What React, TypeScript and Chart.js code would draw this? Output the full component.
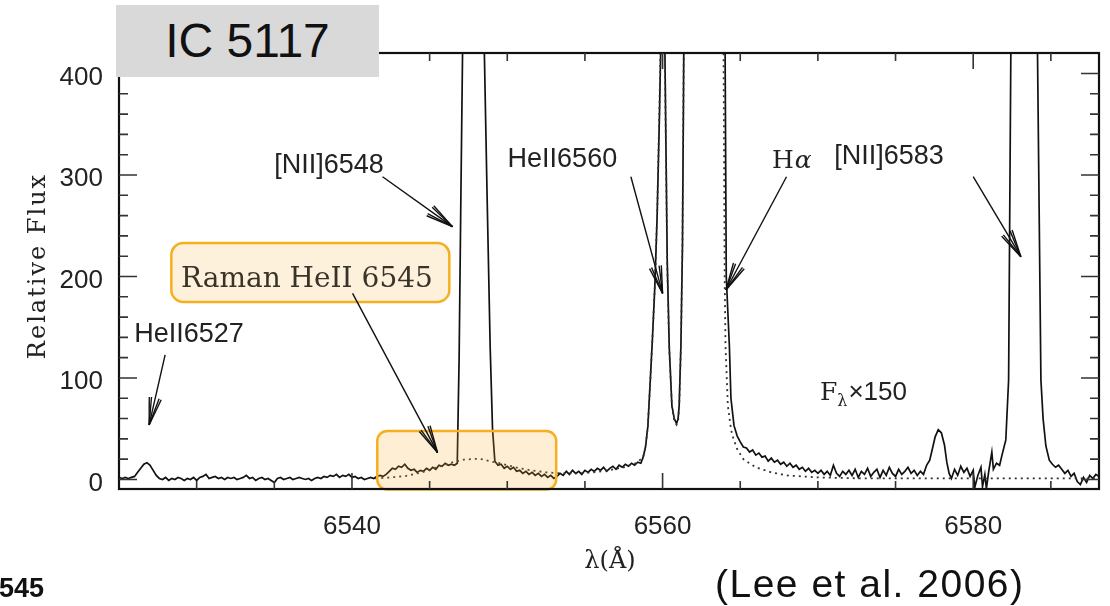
import React, { useEffect, useRef } from "react";
import { Chart, registerables } from "chart.js";

Chart.register(...registerables);

// ---------- DATA ----------
// Observed spectrum of IC 5117, F_lambda x 150, pairs of [wavelength (Å), relative flux]
const spectrumBlue: [number, number][] = [
  [6525.0, 2], [6525.2, 1], [6525.4, 2], [6525.6, 1], [6525.8, 2], [6526.0, 3],
  [6526.2, 7], [6526.4, 11], [6526.6, 15], [6526.8, 16.5], [6527.0, 14], [6527.2, 9],
  [6527.4, 4], [6527.6, 1], [6527.8, 0],
  [6528.0, 2], [6528.2, -1], [6528.4, 1], [6528.6, 0], [6528.8, 2], [6529.0, 1],
  [6529.2, -1], [6529.4, 1], [6529.6, 0], [6529.8, 2], [6530.0, -1], [6530.2, 2],
  [6530.4, 3], [6530.6, 5], [6530.8, 1], [6531.0, 2], [6531.2, 3], [6531.4, 1],
  [6531.6, 2], [6531.8, 0], [6532.0, 2], [6532.2, 1], [6532.4, 2], [6532.6, 0],
  [6532.8, 1], [6533.0, 2], [6533.2, 4], [6533.4, 1], [6533.6, 2], [6533.8, -1],
  [6534.0, 1], [6534.2, 2], [6534.4, 0], [6534.6, 1], [6534.8, -1], [6535.0, -3],
  [6535.2, 1], [6535.4, 2], [6535.6, 0], [6535.8, 1], [6536.0, 2], [6536.2, 0],
  [6536.4, 1], [6536.6, 2], [6536.8, 1], [6537.0, 0], [6537.2, 1], [6537.4, -1],
  [6537.6, 1], [6537.8, 2], [6538.0, 1], [6538.2, 3], [6538.4, 2], [6538.6, 4],
  [6538.8, 3], [6539.0, 5], [6539.2, 2], [6539.4, 4], [6539.6, 3], [6539.8, 5],
  [6540.0, 2], [6540.2, 3], [6540.4, 1], [6540.6, 2], [6540.8, 0], [6541.0, 1],
  [6541.2, 2], [6541.4, 1], [6541.6, 3], [6541.8, 4], [6542.0, 3], [6542.2, 5],
  [6542.4, 8], [6542.6, 11], [6542.8, 10], [6543.0, 13], [6543.2, 12], [6543.4, 15],
  [6543.6, 11], [6543.8, 9], [6544.0, 10], [6544.2, 7], [6544.4, 9], [6544.6, 8],
  [6544.8, 11], [6545.0, 9], [6545.2, 12], [6545.4, 10], [6545.6, 14], [6545.8, 13],
  [6546.0, 16], [6546.2, 14], [6546.4, 15], [6546.6, 14], [6546.78, 16],
];

const spectrumCore: [number, number][] = [
  [6546.9, 120], [6547.0, 260], [6547.12, 420], [6547.8, 1100], [6548.5, 440],
  [6548.7, 280], [6548.9, 130], [6549.05, 50], [6549.2, 18],
  [6549.4, 14], [6549.6, 15], [6549.8, 11], [6550.0, 13], [6550.2, 10], [6550.4, 12],
  [6550.6, 8], [6550.8, 9], [6551.0, 6], [6551.2, 8], [6551.4, 5], [6551.6, 7],
  [6551.8, 4], [6552.0, 6], [6552.2, 3], [6552.4, 5], [6552.6, 2], [6552.8, 4],
  [6553.0, 1], [6553.2, 3], [6553.4, 6], [6553.6, 4], [6553.8, 8], [6554.0, 5],
  [6554.2, 9], [6554.4, 6], [6554.6, 8], [6554.8, 5], [6555.0, 9], [6555.2, 7],
  [6555.4, 10], [6555.6, 8], [6555.8, 11], [6556.0, 9], [6556.2, 12], [6556.4, 8],
  [6556.6, 11], [6556.8, 13], [6557.0, 10], [6557.2, 14], [6557.4, 12], [6557.6, 15],
  [6557.8, 13], [6558.0, 16], [6558.2, 14], [6558.4, 17], [6558.6, 16],
  [6558.75, 22], [6558.9, 32], [6559.05, 52], [6559.2, 95], [6559.35, 140],
  [6559.5, 190], [6559.65, 260], [6559.8, 360], [6559.95, 480], [6560.05, 530],
  [6560.15, 420], [6560.3, 215], [6560.43, 130], [6560.6, 73], [6560.75, 60],
  [6560.9, 55], [6561.0, 60], [6561.07, 73], [6561.18, 132], [6561.28, 230],
  [6561.4, 500], [6562.7, 3000], [6564.0, 500], [6564.1, 200], [6564.3, 132],
  [6564.4, 80], [6564.6, 53], [6564.8, 43],
];

const spectrumRed: [number, number][] = [
  [6565.0, 37], [6565.2, 32], [6565.4, 31], [6565.6, 27], [6565.8, 29], [6566.0, 24],
  [6566.2, 26], [6566.4, 22], [6566.6, 23], [6566.8, 18], [6567.0, 21], [6567.2, 17],
  [6567.4, 19], [6567.6, 15], [6567.8, 17], [6568.0, 13], [6568.2, 16], [6568.4, 12],
  [6568.6, 14], [6568.8, 10], [6569.0, 12], [6569.2, 8], [6569.4, 11], [6569.6, 7],
  [6569.8, 9], [6570.0, 6], [6570.2, 9], [6570.4, 5], [6570.6, 8], [6570.8, 4],
  [6571.0, 14], [6571.2, 6], [6571.4, 3], [6571.6, 8], [6571.8, 5], [6572.0, 9],
  [6572.2, 4], [6572.4, 10], [6572.6, 2], [6572.8, 8], [6573.0, 5], [6573.2, 11],
  [6573.4, 3], [6573.6, 7], [6573.8, 10], [6574.0, 2], [6574.2, 9], [6574.4, 4],
  [6574.6, 12], [6574.8, 6], [6575.0, 3], [6575.2, 10], [6575.4, 5], [6575.6, 8],
  [6575.8, 12], [6576.0, 6], [6576.2, 9], [6576.4, 4], [6576.6, 8], [6576.8, 5],
  [6577.0, 14], [6577.2, 19], [6577.4, 32], [6577.55, 42], [6577.75, 49],
  [6577.95, 46], [6578.15, 34], [6578.3, 17], [6578.45, 6], [6578.6, 1],
  [6578.8, 10], [6579.0, 4], [6579.2, 13], [6579.4, 7], [6579.6, 11], [6579.8, 3],
  [6580.0, 9], [6580.1, -8], [6580.3, 4], [6580.5, 12], [6580.6, -7], [6580.75, 5],
  [6580.85, -9], [6581.0, 8], [6581.2, 27], [6581.3, 10], [6581.5, 16], [6581.7, 14],
  [6581.87, 25], [6582.1, 39], [6582.28, 98], [6582.45, 480], [6583.3, 3000],
  [6584.1, 480], [6584.36, 98], [6584.5, 60], [6584.68, 33], [6584.9, 19],
  [6585.1, 15], [6585.3, 12], [6585.5, 14], [6585.7, 10], [6585.9, 6], [6586.1, 9],
  [6586.3, 3], [6586.5, 6], [6586.7, -2], [6586.9, -5], [6587.1, 2], [6587.3, -3],
  [6587.5, 4], [6587.7, 1], [6587.9, 5], [6588.1, 3],
];

// Model fit (dotted): Raman HeII 6545 + HeII 6560 + Hα
const modelProfile: [number, number][] = [
  [6541.5, 1], [6542.5, 2], [6543.0, 2.7], [6543.5, 3.5], [6544.5, 7], [6545.5, 12],
  [6546.5, 17], [6547.2, 19.5], [6548.2, 20.5], [6549.0, 17.5], [6549.5, 16],
  [6550.5, 12], [6551.5, 9], [6552.5, 7], [6553.5, 6], [6554.5, 6], [6555.5, 7],
  [6556.5, 9], [6557.5, 12], [6558.3, 16], [6558.75, 22], [6558.9, 32],
  [6559.05, 52], [6559.2, 95], [6559.35, 140], [6559.5, 190], [6559.65, 260],
  [6559.8, 370], [6559.95, 490], [6560.05, 520], [6560.15, 410], [6560.3, 210],
  [6560.43, 128], [6560.6, 72], [6560.75, 58], [6560.9, 54], [6561.0, 58],
  [6561.07, 72], [6561.18, 130], [6561.28, 235], [6561.4, 510], [6562.6, 3000],
  [6563.9, 500], [6564.0, 197], [6564.05, 132], [6564.2, 73], [6564.4, 50],
  [6564.5, 43], [6564.8, 30], [6565.2, 20], [6566.0, 12], [6567.0, 7], [6568.0, 4],
  [6570.0, 2], [6573.0, 1], [6588.1, 1],
];

// Axis ticks
const xTickLabels = [6540, 6560, 6580];
const xMinorTicks = [6530, 6535, 6540, 6545, 6550, 6555, 6560, 6565, 6570, 6575, 6580, 6585];
const yTickLabels = [0, 100, 200, 300, 400];
const yMinorTicks = [0, 20, 40, 60, 80, 100, 120, 140, 160, 180, 200, 220, 240, 260, 280, 300, 320, 340, 360, 380, 400];

// Line identifications: label position (wavelength, flux) and arrow tail -> tip
const lineLabels = [
  { text: "[NII]6548", at: [6534.99, 302.0], from: [6541.97, 298.3], to: [6546.47, 249.1] },
  { text: "HeII6560", at: [6550.02, 308.2], from: [6557.96, 298.3], to: [6560.0, 183.4] },
  { text: "[NII]6583", at: [6571.05, 310.8], from: [6580.0, 298.3], to: [6583.07, 219.5] },
  { text: "HeII6527", at: [6525.98, 135.8], from: [6527.97, 122.7], to: [6526.94, 53.7] },
];
const halphaLabel = { at: [6567.04, 307.2], from: [6567.98, 298.3], to: [6564.08, 186.7] };
const ramanLabel = { text: "Raman HeII 6545", at: [6528.99, 190.0], box: [6528.37, 233.0, 6546.27, 174.9], from: [6540.04, 183.4], to: [6545.51, 26.4] };
const ramanRegion = [6541.63, 47.8, 6553.15, -10.0];
const scaleNote = { at: [6570.13, 78.3] };

const SANS = '"Liberation Sans", Arial, Helvetica, sans-serif';
const SERIF = '"DejaVu Serif", "Liberation Serif", serif';

function roundRectPath(ctx: CanvasRenderingContext2D, x: number, y: number, w: number, h: number, r: number) {
  ctx.beginPath();
  ctx.moveTo(x + r, y);
  ctx.lineTo(x + w - r, y);
  ctx.arcTo(x + w, y, x + w, y + r, r);
  ctx.lineTo(x + w, y + h - r);
  ctx.arcTo(x + w, y + h, x + w - r, y + h, r);
  ctx.lineTo(x + r, y + h);
  ctx.arcTo(x, y + h, x, y + h - r, r);
  ctx.lineTo(x, y + r);
  ctx.arcTo(x, y, x + r, y, r);
  ctx.closePath();
}

function drawArrow(ctx: CanvasRenderingContext2D, x1: number, y1: number, x2: number, y2: number) {
  ctx.beginPath();
  ctx.moveTo(x1, y1);
  ctx.lineTo(x2, y2);
  ctx.stroke();
  const ang = Math.atan2(y2 - y1, x2 - x1);
  const len = 28;
  for (const d of [-0.22, -0.14, 0.14, 0.22]) {
    ctx.beginPath();
    ctx.moveTo(x2, y2);
    ctx.lineTo(x2 - len * Math.cos(ang + d), y2 - len * Math.sin(ang + d));
    ctx.stroke();
  }
}

const overlayPlugin = {
  id: "overlay",
  afterDatasetsDraw(chart: any) {
    const { ctx, chartArea: ca, scales } = chart;
    const px = (v: number) => scales.x.getPixelForValue(v);
    const py = (v: number) => scales.y.getPixelForValue(v);
    ctx.save();

    // highlighted Raman region (translucent, over the spectrum)
    {
      const [x0, y0, x1, y1] = ramanRegion;
      roundRectPath(ctx, px(x0), py(y0), px(x1) - px(x0), py(y1) - py(y0), 10);
      ctx.fillStyle = "rgba(245,172,40,0.2)";
      ctx.fill();
      ctx.strokeStyle = "#f5b020";
      ctx.lineWidth = 2.5;
      ctx.stroke();
    }

    // frame
    ctx.strokeStyle = "#111";
    ctx.lineWidth = 2.2;
    ctx.strokeRect(ca.left, ca.top, ca.right - ca.left, ca.bottom - ca.top);

    // inward ticks on all sides
    ctx.strokeStyle = "#333";
    ctx.lineWidth = 1.6;
    for (const v of xMinorTicks) {
      const X = px(v);
      const len = xTickLabels.includes(v) ? 16 : 8;
      ctx.beginPath();
      ctx.moveTo(X, ca.bottom);
      ctx.lineTo(X, ca.bottom - len);
      ctx.moveTo(X, ca.top);
      ctx.lineTo(X, ca.top + len);
      ctx.stroke();
    }
    for (const v of yMinorTicks) {
      const Y = py(v);
      const len = yTickLabels.includes(v) ? 18 : 9;
      ctx.beginPath();
      ctx.moveTo(ca.left, Y);
      ctx.lineTo(ca.left + len, Y);
      ctx.moveTo(ca.right, Y);
      ctx.lineTo(ca.right - len, Y);
      ctx.stroke();
    }

    // Raman label box
    {
      const [x0, y0, x1, y1] = ramanLabel.box;
      roundRectPath(ctx, px(x0), py(y0), px(x1) - px(x0), py(y1) - py(y0), 12);
      ctx.fillStyle = "#fdf1dc";
      ctx.fill();
      ctx.strokeStyle = "#f5b020";
      ctx.lineWidth = 2.5;
      ctx.stroke();
    }

    // arrows
    ctx.strokeStyle = "#111";
    ctx.lineWidth = 1.4;
    const allArrows = [...lineLabels, halphaLabel, ramanLabel];
    for (const a of allArrows) {
      drawArrow(ctx, px(a.from[0]), py(a.from[1]), px(a.to[0]), py(a.to[1]));
    }

    // labels
    ctx.fillStyle = "#222";
    ctx.textAlign = "left";
    ctx.textBaseline = "alphabetic";
    ctx.font = `27px ${SANS}`;
    for (const l of lineLabels) {
      ctx.fillText(l.text, px(l.at[0]), py(l.at[1]));
    }
    // H alpha
    {
      const x = px(halphaLabel.at[0]);
      const y = py(halphaLabel.at[1]);
      ctx.font = `25px ${SERIF}`;
      ctx.fillText("H", x, y);
      const w = ctx.measureText("H").width;
      ctx.font = `italic 25px ${SERIF}`;
      ctx.fillText("α", x + w + 1, y);
    }
    // Raman text
    ctx.fillStyle = "#3a3328";
    ctx.font = `28px ${SERIF}`;
    ctx.fillText(ramanLabel.text, px(ramanLabel.at[0]), py(ramanLabel.at[1]));
    // F_lambda x 150
    {
      ctx.fillStyle = "#222";
      let x = px(scaleNote.at[0]);
      const y = py(scaleNote.at[1]);
      ctx.font = `25px ${SERIF}`;
      ctx.fillText("F", x, y);
      x += ctx.measureText("F").width;
      ctx.font = `16px ${SERIF}`;
      ctx.fillText("λ", x, y + 6);
      x += ctx.measureText("λ").width + 1;
      ctx.font = `26px ${SANS}`;
      ctx.fillText("×150", x, y);
    }

    // axis titles
    ctx.fillStyle = "#222";
    ctx.font = `24px ${SERIF}`;
    ctx.textAlign = "center";
    ctx.fillText("λ(Å)", (ca.left + ca.right) / 2 + 1, 568);
    ctx.save();
    ctx.translate(45, (ca.top + ca.bottom) / 2 - 5);
    ctx.rotate(-Math.PI / 2);
    try { (ctx as any).letterSpacing = "2px"; } catch (e) {}
    ctx.fillText("Relative Flux", 0, 0);
    ctx.restore();

    ctx.restore();
  },
};

export default function App() {
  const canvasRef = useRef<HTMLCanvasElement | null>(null);

  useEffect(() => {
    const canvas = canvasRef.current;
    if (!canvas) return;
    const toPts = (arr: [number, number][]) => arr.map(([x, y]) => ({ x, y }));
    const observed = [...spectrumBlue, ...spectrumCore, ...spectrumRed];
    const chart = new Chart(canvas, {
      type: "line",
      data: {
        datasets: [
          {
            label: "model",
            data: toPts(modelProfile),
            borderColor: "#333",
            borderWidth: 1.8,
            borderDash: [2, 4],
            pointRadius: 0,
            tension: 0,
            fill: false,
          },
          {
            label: "IC 5117",
            data: toPts(observed),
            borderColor: "#111",
            borderWidth: 1.7,
            pointRadius: 0,
            tension: 0,
            fill: false,
          },
        ],
      },
      options: {
        animation: false,
        responsive: false,
        devicePixelRatio: 1,
        layout: { padding: { top: 53, right: 11, left: 0, bottom: 0 } },
        plugins: { legend: { display: false }, tooltip: { enabled: false }, title: { display: false } },
        scales: {
          x: {
            type: "linear",
            min: 6525,
            max: 6588.1,
            afterBuildTicks: (s: any) => {
              s.ticks = xTickLabels.map((v) => ({ value: v }));
            },
            afterFit: (s: any) => {
              s.height = 117;
            },
            grid: { display: false, drawTicks: false },
            border: { display: false },
            ticks: {
              autoSkip: false,
              maxRotation: 0,
              padding: 22,
              color: "#222",
              font: { family: SANS, size: 26 },
              callback: (v: any) => String(v),
            },
          },
          y: {
            type: "linear",
            min: -9.4,
            max: 420.2,
            afterBuildTicks: (s: any) => {
              s.ticks = yTickLabels.map((v) => ({ value: v }));
            },
            afterFit: (s: any) => {
              s.width = 119;
            },
            grid: { display: false, drawTicks: false },
            border: { display: false },
            ticks: {
              padding: 16,
              labelOffset: 4,
              color: "#222",
              font: { family: SANS, size: 26 },
              callback: (v: any) => String(v),
            },
          },
        },
      },
      plugins: [overlayPlugin],
    });
    return () => chart.destroy();
  }, []);

  return (
    <div style={{ position: "absolute", left: 0, top: 0, width: 1110, height: 606, background: "#fff", overflow: "hidden" }}>
      <canvas ref={canvasRef} width={1110} height={606} style={{ position: "absolute", left: 0, top: 0, width: 1110, height: 606 }} />
      <div
        style={{
          position: "absolute", left: 116, top: 5, width: 263, height: 72, background: "#d9d9d9",
          display: "flex", alignItems: "center", justifyContent: "center",
          fontFamily: SANS, fontSize: 48, color: "#111", lineHeight: "48px",
        }}
      >
        IC 5117
      </div>
      <div style={{ position: "absolute", left: -1, top: 575, fontFamily: SANS, fontWeight: "bold", fontSize: 27, lineHeight: "27px", color: "#111", whiteSpace: "nowrap" }}>
        545
      </div>
      <div style={{ position: "absolute", left: 715, top: 564, fontFamily: SANS, fontSize: 39, lineHeight: "39px", letterSpacing: "1.5px", color: "#111", whiteSpace: "nowrap" }}>
        (Lee et al. 2006)
      </div>
    </div>
  );
}
